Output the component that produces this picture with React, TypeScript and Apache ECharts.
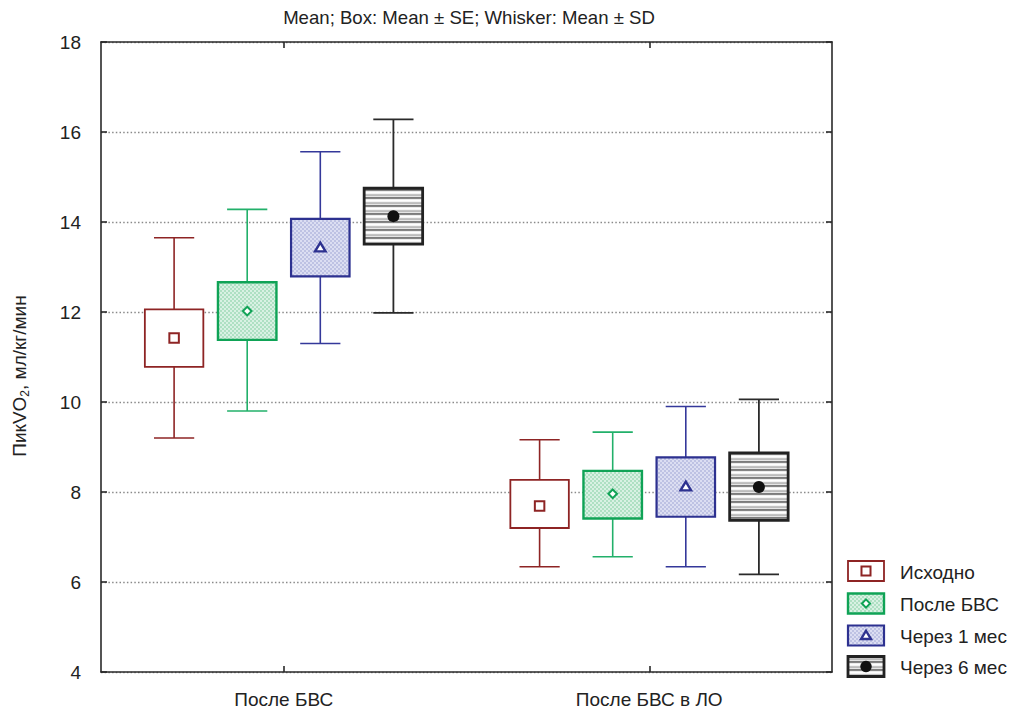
import React, { useEffect, useRef } from 'react';
import * as echarts from 'echarts';

// ---- data ----
const categories = ['После БВС', 'После БВС в ЛО'];
const seriesNames = ['Исходно', 'После БВС', 'Через 1 мес', 'Через 6 мес'];
// each row: [Mean-SD, Mean-SE, Mean, Mean+SE, Mean+SD]
const baseline = [
  [9.2, 10.78, 11.42, 12.06, 13.65],
  [6.34, 7.2, 7.69, 8.27, 9.16],
];
const afterBVS = [
  [9.8, 11.38, 12.02, 12.66, 14.28],
  [6.56, 7.41, 7.96, 8.47, 9.33],
];
const month1 = [
  [11.3, 12.79, 13.43, 14.07, 15.56],
  [6.34, 7.45, 8.12, 8.77, 9.9],
];
const month6 = [
  [11.98, 13.51, 14.13, 14.75, 16.28],
  [6.17, 7.37, 8.11, 8.87, 10.06],
];
const yMin = 4;
const yMax = 18;
const yStep = 2;
const titleText = 'Mean; Box: Mean ± SE; Whisker: Mean ± SD';

const FONT = '"Liberation Sans", Arial, Helvetica, sans-serif';
const TXT = '#222222';
const FS = 19;

function makePattern(w: number, h: number, draw: (ctx: CanvasRenderingContext2D) => void) {
  const c = document.createElement('canvas');
  c.width = w;
  c.height = h;
  const ctx = c.getContext('2d') as CanvasRenderingContext2D;
  draw(ctx);
  return { image: c.toDataURL(), repeat: 'repeat', imageWidth: w, imageHeight: h } as any;
}

function checker(a: string, b: string, s: number) {
  return makePattern(s * 2, s * 2, (ctx) => {
    ctx.fillStyle = a;
    ctx.fillRect(0, 0, s * 2, s * 2);
    ctx.fillStyle = b;
    ctx.fillRect(0, 0, s, s);
    ctx.fillRect(s, s, s, s);
  });
}

function stripes() {
  const rows = ['#ffffff', '#f4f4f4', '#c4c4c4', '#bcbcbc', '#e6e6e6', '#7c7c7c', '#858585', '#ececec'];
  return makePattern(4, rows.length, (ctx) => {
    rows.forEach((c, i) => {
      ctx.fillStyle = c;
      ctx.fillRect(0, i, 4, 1);
    });
  });
}

export default function App() {
  const ref = useRef<HTMLDivElement>(null);

  useEffect(() => {
    document.body.style.margin = '0';
    const chart = echarts.init(ref.current as HTMLDivElement, null, { renderer: 'svg' });

    const green = checker('#aee0c3', '#d8f1e3', 2);
    const blue = checker('#bec2e3', '#dcdef2', 2);
    const black = stripes();

    const styles = [
      { line: '#8e2424', box: '#8e2424', fill: '#ffffff', boxW: 1.8, whW: 1.6, marker: 'square' },
      { line: '#22b06a', box: '#0fa356', fill: green, boxW: 2.4, whW: 1.6, marker: 'diamond' },
      { line: '#34389a', box: '#2d3190', fill: blue, boxW: 2.2, whW: 1.6, marker: 'triangle' },
      { line: '#2a2a2a', box: '#222222', fill: black, boxW: 2.8, whW: 1.8, marker: 'circle' },
    ];
    const offsets = [-0.3, -0.1, 0.1, 0.3];
    const boxFrac = 0.16;
    const capFrac = 0.11;
    const allData = [baseline, afterBVS, month1, month6];

    const markerShape = (kind: string, cx: number, cy: number, color: string, scale = 1): any => {
      if (kind === 'square') {
        const s = 9.5 * scale;
        return { type: 'rect', shape: { x: cx - s / 2, y: cy - s / 2, width: s, height: s }, style: { fill: '#fff', stroke: color, lineWidth: 2 } };
      }
      if (kind === 'diamond') {
        const r = 4.3 * scale;
        return { type: 'polygon', shape: { points: [[cx, cy - r], [cx + r, cy], [cx, cy + r], [cx - r, cy]] }, style: { fill: '#fff', stroke: color, lineWidth: 2 } };
      }
      if (kind === 'triangle') {
        const r = 5 * scale;
        return { type: 'polygon', shape: { points: [[cx, cy - r], [cx + r * 1.05, cy + r * 0.75], [cx - r * 1.05, cy + r * 0.75]] }, style: { fill: '#fff', stroke: color, lineWidth: 2.4 } };
      }
      return { type: 'circle', shape: { cx, cy, r: 6 * scale }, style: { fill: '#111' } };
    };

    const series = allData.map((rows, si) => ({
      type: 'custom',
      name: seriesNames[si],
      xAxisIndex: 0,
      yAxisIndex: 0,
      encode: { x: 0, y: [1, 2, 3, 4, 5] },
      data: rows.map((r, ci) => [ci, ...r]),
      renderItem: (params: any, api: any) => {
        const st = styles[si];
        const ci = api.value(0);
        const band = api.size([1, 0])[0];
        const cx = api.coord([ci, yMin])[0] + offsets[si] * band;
        const y = (k: number) => api.coord([ci, api.value(k)])[1];
        const lo = y(1), q1 = y(2), m = y(3), q3 = y(4), hi = y(5);
        const bw = band * boxFrac;
        const cw = band * capFrac;
        const ls = { stroke: st.line, lineWidth: st.whW };
        return {
          type: 'group',
          children: [
            { type: 'line', shape: { x1: cx, y1: hi, x2: cx, y2: q3 }, style: ls },
            { type: 'line', shape: { x1: cx, y1: q1, x2: cx, y2: lo }, style: ls },
            { type: 'line', shape: { x1: cx - cw / 2, y1: hi, x2: cx + cw / 2, y2: hi }, style: ls },
            { type: 'line', shape: { x1: cx - cw / 2, y1: lo, x2: cx + cw / 2, y2: lo }, style: ls },
            {
              type: 'rect',
              shape: { x: cx - bw / 2, y: q3, width: bw, height: q1 - q3 },
              style: { fill: st.fill, stroke: st.box, lineWidth: st.boxW },
            },
            markerShape(st.marker, cx, m, st.box),
          ],
        };
      },
    }));

    // legend drawn as graphic elements
    const legendX = 848;
    const legendY = [571, 603.5, 635.5, 666.5];
    const swW = 36;
    const swH = 20;
    const legendGraphics: any[] = [];
    styles.forEach((st, i) => {
      const cy = legendY[i];
      legendGraphics.push({
        type: 'rect',
        shape: { x: legendX, y: cy - swH / 2, width: swW, height: swH },
        style: { fill: st.fill, stroke: st.box, lineWidth: st.boxW },
      });
      legendGraphics.push(markerShape(st.marker, legendX + swW / 2, cy, st.box, 0.95));
      legendGraphics.push({
        type: 'text',
        x: 900,
        y: cy + 1,
        style: { text: seriesNames[i], font: `${FS}px ${FONT}`, fill: TXT, textAlign: 'left', textVerticalAlign: 'middle' },
      });
    });

    const axisLine = { show: true, lineStyle: { color: '#2a2a2a', width: 1.6 } };
    const tick = { show: true, inside: true, length: 6, lineStyle: { color: '#2a2a2a', width: 1.6 } };

    chart.setOption({
      animation: false,
      textStyle: { fontFamily: FONT },
      grid: { left: 101, right: 181, top: 42, bottom: 39 },
      xAxis: [
        {
          type: 'category',
          data: categories,
          position: 'bottom',
          boundaryGap: true,
          axisLine,
          axisTick: { ...tick, alignWithLabel: true },
          axisLabel: { color: TXT, fontSize: FS, margin: 18, fontFamily: FONT },
          splitLine: { show: false },
        },
        {
          type: 'category',
          data: categories,
          position: 'top',
          boundaryGap: true,
          axisLine,
          axisTick: { ...tick, alignWithLabel: true },
          axisLabel: { show: false },
          splitLine: { show: false },
        },
      ],
      yAxis: [
        {
          type: 'value',
          min: yMin,
          max: yMax,
          interval: yStep,
          position: 'left',
          axisLine,
          axisTick: tick,
          axisLabel: { color: TXT, fontSize: FS, margin: 20, fontFamily: FONT },
          splitLine: { show: true, lineStyle: { color: '#8a8a8a', width: 1.4, type: [1.5, 2.2] } },
        },
        {
          type: 'value',
          min: yMin,
          max: yMax,
          interval: yStep,
          position: 'right',
          axisLine,
          axisTick: tick,
          axisLabel: { show: false },
          splitLine: { show: false },
        },
      ],
      graphic: [
        {
          type: 'text',
          x: 469,
          y: 17,
          style: { text: titleText, font: `18.6px ${FONT}`, fill: TXT, textAlign: 'center', textVerticalAlign: 'middle' },
        },
        {
          type: 'text',
          x: 19,
          y: 376,
          rotation: Math.PI / 2,
          style: {
            text: '{a|ПикVO}{b|2}{a|, мл/кг/мин}',
            fill: TXT,
            textAlign: 'center',
            textVerticalAlign: 'middle',
            rich: {
              a: { fontSize: FS, fontFamily: FONT, fill: TXT, lineHeight: 24, verticalAlign: 'middle' },
              b: { fontSize: 12, fontFamily: FONT, fill: TXT, lineHeight: 12, verticalAlign: 'bottom' },
            },
          },
        },
        ...legendGraphics,
      ],
      series,
    });

    return () => chart.dispose();
  }, []);

  return <div ref={ref} style={{ width: 1013, height: 711 }} />;
}
